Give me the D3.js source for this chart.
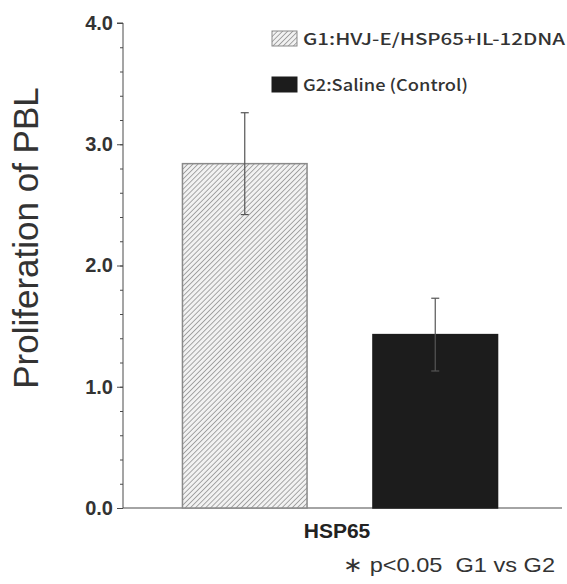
<!DOCTYPE html>
<html>
<head>
<meta charset="utf-8">
<script src="https://cdn.jsdelivr.net/npm/d3@7"></script>
<style>
  body { margin: 0; background: #fff; }
  svg { display: block; }
</style>
</head>
<body>
<div id="chart"></div>
<script>
const width = 567, height = 584;

// data
const groups = ["G1", "G2"];
const legendLabels = ["G1:HVJ-E/HSP65+IL-12DNA", "G2:Saline (Control)"];
const means = [2.84, 1.43];
const errors = [0.42, 0.30];
const yTicks = [0, 1, 2, 3, 4];
const category = "HSP65";

const svg = d3.select("#chart").append("svg")
  .attr("width", width)
  .attr("height", height);

const defs = svg.append("defs");
const pat = defs.append("pattern")
  .attr("id", "hatch")
  .attr("patternUnits", "userSpaceOnUse")
  .attr("width", 3.6).attr("height", 3.6)
  .attr("patternTransform", "rotate(45)");
pat.append("rect").attr("width", 3.6).attr("height", 3.6).attr("fill", "#f2f2f2");
pat.append("line")
  .attr("x1", 0).attr("y1", 0).attr("x2", 0).attr("y2", 3.6)
  .attr("stroke", "#7d7d7d").attr("stroke-width", 1.3);

const fills = ["url(#hatch)", "#1c1c1c"];
const strokes = ["#8a8a8a", "#1c1c1c"];

const y = d3.scaleLinear().domain([0, 4]).range([508, 23]);
const x = d3.scaleBand().domain(groups).range([149.5, 530.5])
  .paddingInner(0.346).paddingOuter(0.173);

const axisColor = "#4a4a4a";

// minor ticks
const yAxisG = svg.append("g").attr("transform", "translate(123,0)");
yAxisG.call(d3.axisLeft(y).tickValues(d3.range(0, 4.01, 0.2)).tickSize(3).tickFormat(""))
  .call(g => g.select(".domain").remove())
  .call(g => g.selectAll("line").attr("stroke", axisColor));

yAxisG.append("g")
  .call(d3.axisLeft(y).tickValues(yTicks).tickSize(6).tickPadding(4).tickFormat(d3.format(".1f")))
  .call(g => g.select(".domain").attr("stroke", axisColor).attr("d", `M-6,${y(4)}H0V${y(0)}`))
  .call(g => g.selectAll("line").attr("stroke", axisColor))
  .call(g => g.selectAll("text")
    .attr("fill", "#333")
    .style("font-family", "'Liberation Sans', Arial, sans-serif")
    .style("font-weight", "bold")
    .style("font-size", "20px"));

// x axis line
svg.append("line")
  .attr("x1", 123).attr("x2", 562)
  .attr("y1", y(0)).attr("y2", y(0))
  .attr("stroke", axisColor).attr("stroke-width", 1.2);

// bars
svg.selectAll("rect.bar")
  .data(groups)
  .enter().append("rect")
  .attr("class", "bar")
  .attr("x", d => x(d))
  .attr("width", x.bandwidth())
  .attr("y", (d, i) => y(means[i]))
  .attr("height", (d, i) => y(0) - y(means[i]))
  .attr("fill", (d, i) => fills[i])
  .attr("stroke", (d, i) => strokes[i])
  .attr("stroke-width", 1.5);

// error bars
const eb = svg.selectAll("g.err")
  .data(groups)
  .enter().append("g")
  .attr("class", "err")
  .attr("stroke", "#555")
  .attr("stroke-width", 1.2);
eb.append("line")
  .attr("x1", d => x(d) + x.bandwidth() / 2)
  .attr("x2", d => x(d) + x.bandwidth() / 2)
  .attr("y1", (d, i) => y(means[i] + errors[i]))
  .attr("y2", (d, i) => y(means[i] - errors[i]));
eb.each(function (d, i) {
  const cx = x(d) + x.bandwidth() / 2;
  [means[i] + errors[i], means[i] - errors[i]].forEach(v => {
    d3.select(this).append("line")
      .attr("x1", cx - 4).attr("x2", cx + 4)
      .attr("y1", y(v)).attr("y2", y(v));
  });
});

// y label
svg.append("text")
  .attr("transform", `translate(38,238) rotate(-90)`)
  .attr("text-anchor", "middle")
  .attr("fill", "#333")
  .style("font-family", "'Liberation Sans', Arial, sans-serif")
  .style("font-size", "35px")
  .text("Proliferation of PBL");

// category label
svg.append("text")
  .attr("x", 337).attr("y", 538)
  .attr("text-anchor", "middle")
  .attr("fill", "#222")
  .style("font-family", "'Liberation Sans', Arial, sans-serif")
  .style("font-weight", "bold")
  .style("font-size", "21px")
  .text(category);

// note
svg.append("text")
  .attr("x", 343).attr("y", 572)
  .attr("fill", "#333")
  .attr("textLength", 212)
  .attr("lengthAdjust", "spacingAndGlyphs")
  .style("font-family", "'Liberation Sans', Arial, sans-serif")
  .style("font-size", "21px")
  .style("white-space", "pre")
  .text("\u2217 p<0.05  G1 vs G2");

// legend
const legLen = [262, 165];
const leg = svg.selectAll("g.leg")
  .data(legendLabels)
  .enter().append("g")
  .attr("class", "leg")
  .attr("transform", (d, i) => `translate(272,${31 + i * 46})`);
leg.append("rect")
  .attr("width", 25).attr("height", 15)
  .attr("fill", (d, i) => fills[i])
  .attr("stroke", (d, i) => strokes[i]);
leg.append("text")
  .attr("x", 31).attr("y", 14)
  .attr("fill", "#333")
  .attr("textLength", (d, i) => legLen[i])
  .attr("lengthAdjust", "spacingAndGlyphs")
  .style("font-family", "'Noto Sans CJK JP', sans-serif")
  .style("font-weight", "500")
  .style("font-size", "16px")
  .text(d => d);
</script>
</body>
</html>
